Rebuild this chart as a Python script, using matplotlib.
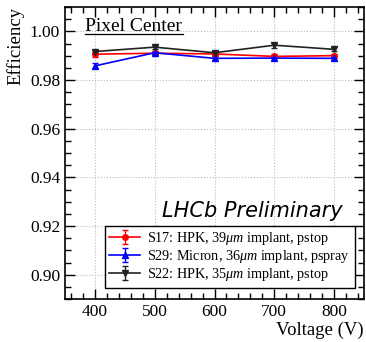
import matplotlib
matplotlib.use("Agg")
import matplotlib.pyplot as plt
from matplotlib.ticker import MultipleLocator
from matplotlib.lines import Line2D

voltage = [400, 500, 600, 700, 800]

effS17 = [0.9906, 0.9910, 0.9907, 0.9897, 0.9900]
errS17 = [0.0010, 0.0008, 0.0008, 0.0008, 0.0008]

effS29 = [0.9858, 0.9912, 0.9889, 0.9890, 0.9889]
errS29 = [0.0010, 0.0008, 0.0008, 0.0008, 0.0008]

effS22 = [0.9917, 0.9935, 0.9912, 0.9943, 0.9926]
errS22 = [0.0008, 0.0008, 0.0008, 0.0010, 0.0008]

labels = [r"S17: HPK, 39$\mu m$ implant, pstop",
          r"S29: Micron, 36$\mu m$ implant, pspray",
          r"S22: HPK, 35$\mu m$ implant, pstop"]

plt.rcParams['font.family'] = 'Liberation Serif'
plt.rcParams['mathtext.fontset'] = 'custom'
plt.rcParams['mathtext.it'] = 'Liberation Serif:italic'

fig = plt.figure(figsize=(3.66, 3.42), dpi=100)
ax = fig.add_axes([65/366, 1-299/342, 299/366, 292/342])

ax.errorbar(voltage, effS17, yerr=errS17, color='red', marker='o', ms=4,
            lw=1.2, capsize=2, elinewidth=1, label=labels[0])
ax.errorbar(voltage, effS29, yerr=errS29, color='blue', marker='^', ms=4,
            lw=1.2, capsize=2, elinewidth=1, label=labels[1])
ax.errorbar(voltage, effS22, yerr=errS22, color='#222222', marker='v', ms=4,
            lw=1.2, capsize=2, elinewidth=1, label=labels[2])

ax.set_xlim(350, 850)
ax.set_ylim(0.89, 1.01)
ax.xaxis.set_major_locator(MultipleLocator(100))
ax.xaxis.set_minor_locator(MultipleLocator(20))
ax.yaxis.set_minor_locator(MultipleLocator(0.005))
ax.set_yticks([0.90, 0.92, 0.94, 0.96, 0.98, 1.00])
ax.tick_params(which='both', direction='in', top=True, right=True, labelsize=12.5)
ax.tick_params(which='major', length=7, width=1)
ax.tick_params(which='minor', length=4, width=1)
for s in ax.spines.values():
	s.set_linewidth(1.2)
ax.grid(which='major', ls=':', color='#bbbbbb', lw=0.8)

ax.set_xlabel("Voltage (V)", fontsize=13.5, loc='right', labelpad=1)
ax.set_ylabel("Efficiency", fontsize=13.5, loc='top', labelpad=4)

leg = ax.legend(loc='lower left', bbox_to_anchor=(0.11, 0.015), fontsize=10.2,
                fancybox=False, edgecolor='black', framealpha=1,
                handlelength=2.2, borderpad=0.3, labelspacing=0.08,
                handletextpad=0.5)
leg.get_frame().set_linewidth(1)

ax.text(0.324, 0.28, "LHCb Preliminary", transform=ax.transAxes,
        fontsize=15, style='italic', family='DejaVu Sans', color='black')

ax.text(0.067, 0.918, "Pixel Center", transform=ax.transAxes, fontsize=14)
ax.add_line(Line2D([0.067, 0.395], [0.9075, 0.9075], transform=ax.transAxes,
                   color='black', lw=0.9))

fig.savefig("out.png", dpi=100)
